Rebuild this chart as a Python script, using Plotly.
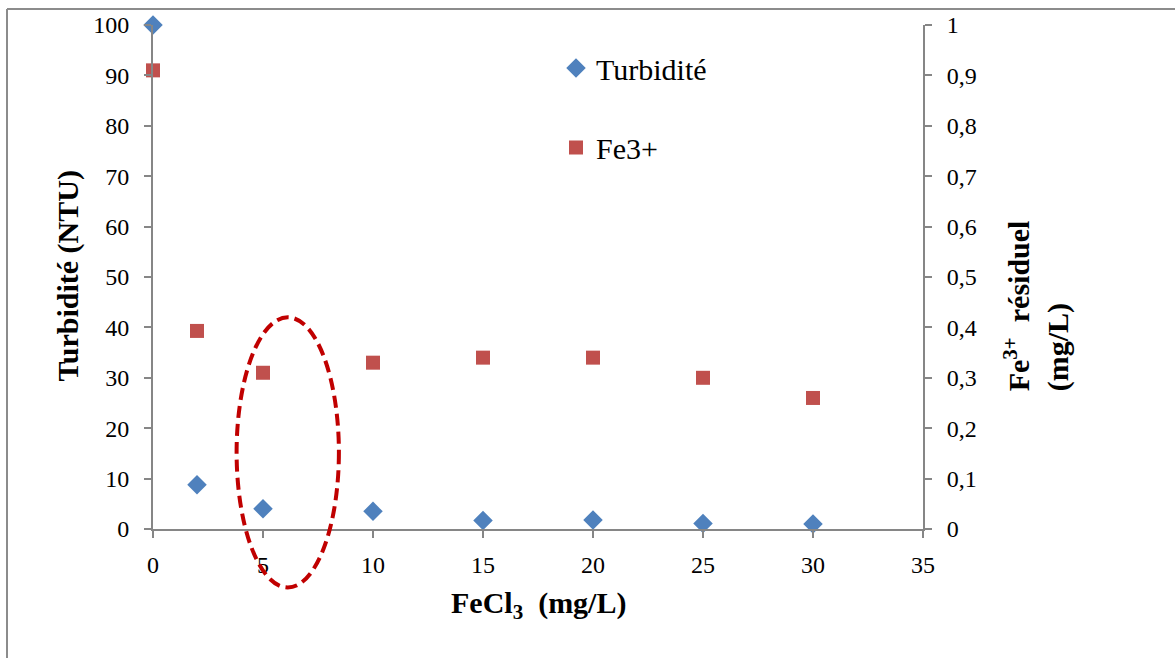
import plotly.graph_objects as go

# ---- data ----
fecl3_dose = [0, 2, 5, 10, 15, 20, 25, 30]
turbidite = [100, 8.8, 4.0, 3.5, 1.7, 1.8, 1.1, 1.0]
fe3_residuel = [0.91, 0.393, 0.31, 0.33, 0.34, 0.34, 0.30, 0.26]
x_ticks = [0, 5, 10, 15, 20, 25, 30, 35]

X_RANGE = [0, 35]
Y_RANGE = [0, 100]
Y2_RANGE = [0, 1]

# highlight ellipse (data units of x / left y axis)
ell_x = [3.8, 8.45]
ell_y = [-11.6, 42.0]

SERIF = "Liberation Serif"
AXIS_GREY = "#868686"


def to_paper_x(v):
    return (v - X_RANGE[0]) / (X_RANGE[1] - X_RANGE[0])


def to_paper_y(v):
    return (v - Y_RANGE[0]) / (Y_RANGE[1] - Y_RANGE[0])


fig = go.Figure()
fig.add_trace(go.Scatter(
    x=fecl3_dose, y=turbidite, mode="markers", name="Turbidité",
    marker=dict(symbol="diamond", size=15, color="#4F81BD"),
    cliponaxis=False, legend="legend", yaxis="y",
))
fig.add_trace(go.Scatter(
    x=fecl3_dose, y=fe3_residuel, mode="markers", name="Fe3+",
    marker=dict(symbol="square", size=14, color="#C0504D"),
    cliponaxis=False, legend="legend2", yaxis="y2",
))

axis_common = dict(
    showline=True, linecolor=AXIS_GREY, linewidth=2,
    ticks="outside", ticklen=7, tickwidth=2, tickcolor=AXIS_GREY,
    showgrid=False, zeroline=False,
    tickfont=dict(family=SERIF, size=24, color="black"),
)

W, H = 1175, 658
ML, MR, MT, MB = 153, 252, 22, 129
PW, PH = W - ML - MR, H - MT - MB


def px_to_paper_x(p):
    return (p - ML) / PW


def px_to_paper_y(p):
    return 1 - (p - MT) / PH


fig.update_layout(
    width=W, height=H, autosize=False,
    margin=dict(l=ML, r=MR, t=MT, b=MB, pad=0),
    paper_bgcolor="white", plot_bgcolor="white",
    separators=", ",
    font=dict(family=SERIF, color="black"),
    showlegend=True,
    xaxis=dict(range=X_RANGE, tickvals=x_ticks, ticklabelstandoff=6, **axis_common),
    yaxis=dict(range=Y_RANGE, dtick=10, ticklabelstandoff=10, **axis_common),
    yaxis2=dict(range=Y2_RANGE, dtick=0.1, overlaying="y", side="right",
                ticklabelstandoff=10, **axis_common),
    legend=dict(x=px_to_paper_x(556), y=px_to_paper_y(39), xanchor="left", yanchor="top",
                bgcolor="rgba(0,0,0,0)", borderwidth=0,
                font=dict(family=SERIF, size=30, color="black")),
    legend2=dict(x=px_to_paper_x(556), y=px_to_paper_y(119), xanchor="left", yanchor="top",
                 bgcolor="rgba(0,0,0,0)", borderwidth=0,
                 font=dict(family=SERIF, size=30, color="black")),
    shapes=[
        dict(type="circle", xref="paper", yref="paper",
             x0=to_paper_x(ell_x[0]), x1=to_paper_x(ell_x[1]),
             y0=to_paper_y(ell_y[0]), y1=to_paper_y(ell_y[1]),
             line=dict(color="#C00000", width=4, dash="12px,6px"), layer="above"),
        dict(type="line", xref="paper", yref="paper",
             x0=px_to_paper_x(7), x1=px_to_paper_x(7),
             y0=px_to_paper_y(H + 2), y1=px_to_paper_y(6),
             line=dict(color="#8C8C8C", width=2)),
        dict(type="line", xref="paper", yref="paper",
             x0=px_to_paper_x(7), x1=px_to_paper_x(W + 2),
             y0=px_to_paper_y(6), y1=px_to_paper_y(6),
             line=dict(color="#8C8C8C", width=2)),
    ],
    annotations=[
        dict(text="<b>FeCl<sub>3</sub>  (mg/L)</b>", xref="paper", yref="paper",
             x=px_to_paper_x(538), y=px_to_paper_y(605), xanchor="center", yanchor="middle",
             showarrow=False, font=dict(family=SERIF, size=30, color="black")),
        dict(text="<b>Turbidité (NTU)</b>", xref="paper", yref="paper",
             x=px_to_paper_x(68), y=px_to_paper_y(275), xanchor="center", yanchor="middle",
             textangle=-90, showarrow=False, font=dict(family=SERIF, size=30, color="black")),
        dict(text="<b>Fe<sup>3+</sup>  résiduel<br>(mg/L)</b>", xref="paper", yref="paper",
             x=px_to_paper_x(1037), y=px_to_paper_y(305), xanchor="center", yanchor="middle",
             textangle=-90, align="left", showarrow=False,
             font=dict(family=SERIF, size=30, color="black")),
    ],
)

fig.write_html("out.html")
